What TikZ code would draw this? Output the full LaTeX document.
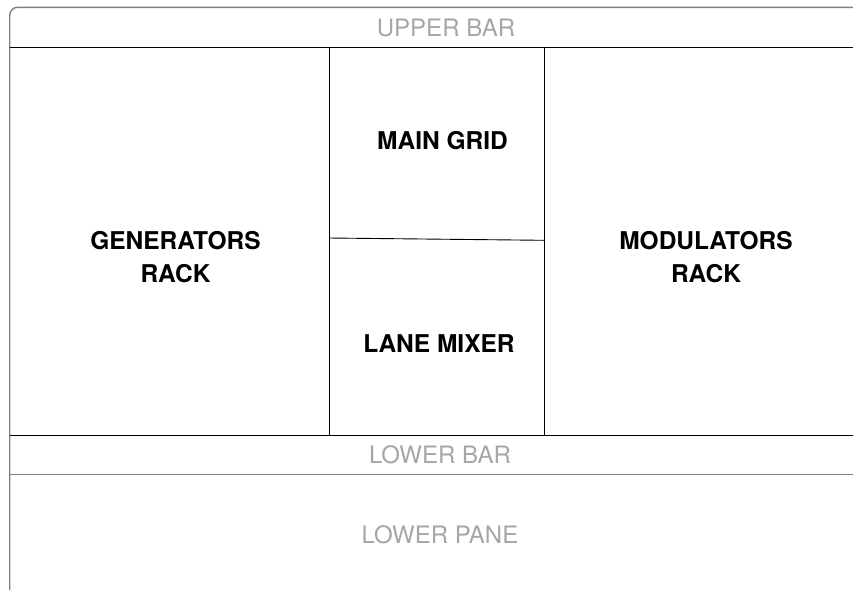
\documentclass[tikz,border=0pt]{standalone}
\usepackage{fontspec}
\setmainfont{TeX Gyre Heros}
\definecolor{framegray}{HTML}{808080}
\definecolor{labelgray}{HTML}{A6A6A6}
\tikzset{
  frameline/.style={draw=framegray, line width=1.4pt},
  divline/.style={draw=black, line width=0.9pt},
  bartext/.style={text=labelgray, font=\fontsize{24}{28}\selectfont, inner sep=0pt},
  paneltext/.style={text=black, font=\bfseries\fontsize{24.5}{33}\selectfont, align=center, inner sep=0pt},
}
\begin{document}
\begin{tikzpicture}[x=1pt,y=-1pt]
\useasboundingbox (0,0) rectangle (853,590);
% outer frame
\draw[frameline, rounded corners=8pt] (853,7.3) -- (9.7,7.3) -- (9.7,590);
% bars
\draw[divline] (9.7,47.3) -- (853,47.3);
\draw[divline] (9.7,435.3) -- (853,435.3);
\draw[frameline] (9.7,474.3) -- (853,474.3);
% center columns
\draw[divline] (329.3,47.3) -- (329.3,435.3);
\draw[divline] (544.3,47.3) -- (544.3,435.3);
\draw[divline] (329.3,238) -- (544.3,240.3);
% labels
\node[bartext] (upper) at (446,28) {UPPER BAR};
\node[paneltext] (gen) at (175.5,257) {GENERATORS\\RACK};
\node[paneltext] (grid) at (442.5,140.5) {MAIN GRID};
\node[paneltext] (lane) at (439,344) {LANE MIXER};
\node[paneltext] (mod) at (706,257) {MODULATORS\\RACK};
\node[bartext] (lower) at (440,455) {LOWER BAR};
\node[bartext] (pane) at (440,534.5) {LOWER PANE};
\end{tikzpicture}
\end{document}
